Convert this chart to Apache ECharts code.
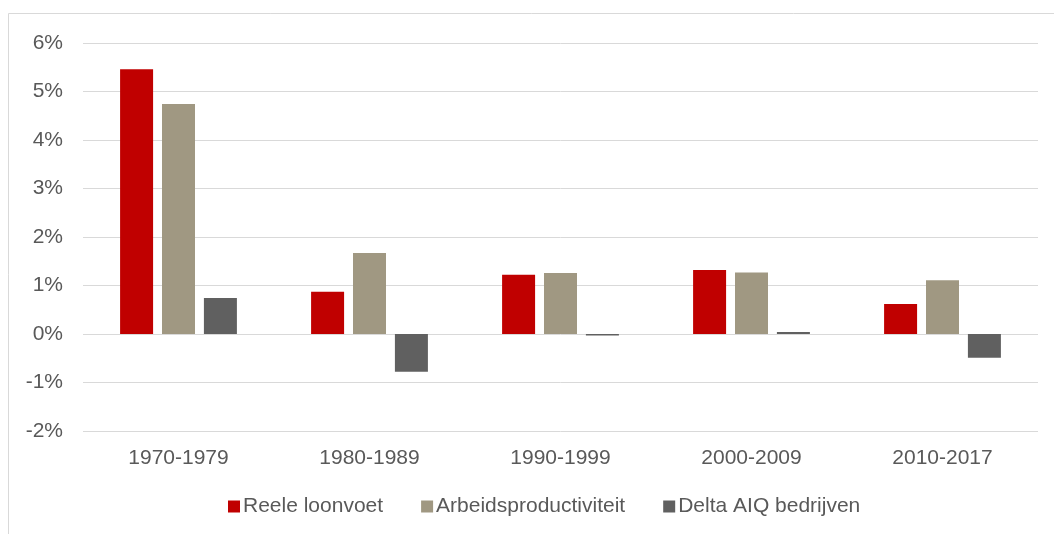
<!DOCTYPE html>
<html>
<head>
<meta charset="utf-8">
<script src="https://cdn.jsdelivr.net/npm/echarts@6/dist/echarts.min.js"></script>
<style>
    html, body { margin: 0; padding: 0; background: #fff; }
    #chart { width: 1054px; height: 534px; }
</style>
</head>
<body>
<div id="chart"></div>
<script>
var categories = ['1970-1979', '1980-1989', '1990-1999', '2000-2009', '2010-2017'];
var reeleLoonvoet = [5.46, 0.87, 1.22, 1.32, 0.62];
var arbeidsproductiviteit = [4.74, 1.67, 1.26, 1.27, 1.11];
var deltaAiq = [0.74, -0.78, -0.03, 0.04, -0.49];
var yTicks = { min: -2, max: 6, interval: 1 };

var textColor = '#595959';
var font = '"Liberation Sans", Arial, sans-serif';

var myChart = echarts.init(document.getElementById('chart'));

function barSeries(name, data, color) {
    return {
        name: name,
        type: 'bar',
        data: data,
        barWidth: 33,
        barGap: '27%',
        itemStyle: { color: color },
        emphasis: { disabled: true }
    };
}

var option = {
    animation: false,
    backgroundColor: '#fff',
    textStyle: { fontFamily: font },
    graphic: [{
        type: 'rect',
        shape: { x: 8.5, y: 13.5, width: 1100, height: 600 },
        style: { fill: 'none', stroke: '#d9d9d9', lineWidth: 1 },
        silent: true
    }],
    grid: { left: 83, right: 16, top: 43, bottom: 103 },
    legend: {
        top: 491,
        left: 223,
        itemWidth: 12,
        itemHeight: 12,
        itemGap: 38,
        icon: 'rect',
        textStyle: { color: textColor, fontSize: 21, fontFamily: font, padding: [0, 0, 0, -2] },
        data: ['Reele loonvoet', 'Arbeidsproductiviteit', 'Delta AIQ bedrijven']
    },
    xAxis: {
        type: 'category',
        data: categories,
        axisLine: { show: false },
        axisTick: { show: false },
        axisLabel: { color: textColor, fontSize: 21, margin: 17, fontFamily: font }
    },
    yAxis: {
        type: 'value',
        min: yTicks.min,
        max: yTicks.max,
        interval: yTicks.interval,
        axisLine: { show: false },
        axisTick: { show: false },
        axisLabel: {
            color: textColor, fontSize: 21, margin: 20, fontFamily: font,
            formatter: function (v) { return v + '%'; }
        },
        splitLine: { lineStyle: { color: '#d9d9d9', width: 1 } }
    },
    series: [
        barSeries('Reele loonvoet', reeleLoonvoet, '#c00000'),
        barSeries('Arbeidsproductiviteit', arbeidsproductiviteit, '#a09882'),
        barSeries('Delta AIQ bedrijven', deltaAiq, '#606060')
    ]
};
myChart.setOption(option);
</script>
</body>
</html>
